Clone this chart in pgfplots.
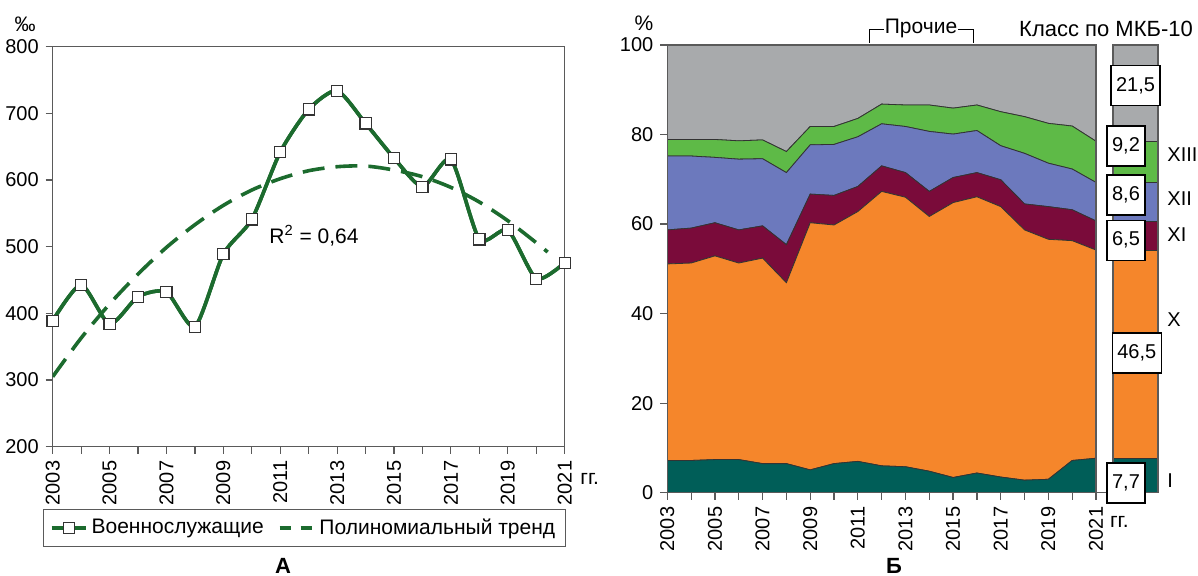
\documentclass[border=0pt]{standalone}
\usepackage{fontspec}
\setmainfont{Liberation Sans}
\usepackage{pgfplots}
\pgfplotsset{compat=1.18}
\usepackage{pgfplotstable}

\definecolor{lgreen}{HTML}{1C6B2E}
\definecolor{axgray}{HTML}{5A5A5A}
\definecolor{cI}{HTML}{005E58}
\definecolor{cX}{HTML}{F5862B}
\definecolor{cXI}{HTML}{7A0B3A}
\definecolor{cXII}{HTML}{6C79BD}
\definecolor{cXIII}{HTML}{5EBA47}
\definecolor{cOth}{HTML}{A8AAAC}

\pgfplotstableread{
year val
2003 389
2004 443
2005 384
2006 425
2007 432
2008 380
2009 489
2010 541
2011 642
2012 706
2013 734
2014 685
2015 633
2016 590
2017 631
2018 511
2019 525
2020 452
2021 476
}\tabMil

\pgfplotstableread{
year trend
2003 305
2004 363
2005 414
2006 459
2007 499
2008 533
2009 562
2010 585
2011 602
2012 614
2013 620
2014 621
2015 615
2016 605
2017 589
2018 567
2019 539
2020 506
2020.4 492
}\tabTrend

\pgfplotstableread{
year I X XI XII XIII Oth
2003 7.2 43.9 7.6 16.5 3.7 21.1
2004 7.2 44.1 7.8 16.1 3.7 21.1
2005 7.4 45.5 7.4 14.6 4.0 21.1
2006 7.4 43.9 7.4 15.8 4.1 21.4
2007 6.5 45.9 7.2 15.0 4.2 21.2
2008 6.5 40.4 8.5 16.1 4.7 23.8
2009 5.1 55.2 6.4 11.0 4.1 18.2
2010 6.5 53.3 6.6 11.4 4.0 18.2
2011 7.0 55.8 5.6 11.1 4.1 16.4
2012 6.0 61.3 5.7 9.4 4.4 13.2
2013 5.8 60.2 5.5 10.3 4.8 13.4
2014 4.8 56.9 5.6 13.4 5.9 13.4
2015 3.4 61.4 5.6 9.7 5.8 14.1
2016 4.4 61.7 5.4 9.4 5.7 13.4
2017 3.5 60.4 6.0 7.6 7.6 14.9
2018 2.8 55.9 5.8 11.3 8.2 16.0
2019 3.0 53.6 7.3 9.7 8.9 17.5
2020 7.2 49.1 6.9 9.1 9.6 18.1
2021 7.7 46.5 6.5 8.6 9.2 21.5
}\tabStruct

\pgfplotstableread{
x I X XI XII XIII Oth
0 7.7 46.5 6.5 8.6 9.2 21.5
1 7.7 46.5 6.5 8.6 9.2 21.5
}\tabBar

\pgfplotsset{
  common/.style={
    scale only axis,
    anchor=south west,
    axis line style={axgray, line width=0.6pt},
    every tick/.style={axgray, line width=0.6pt},
    tick align=outside,
    major tick length=3.5pt,
    xtick pos=bottom, ytick pos=left,
    /pgf/number format/assume math mode=true,
    /pgf/number format/1000 sep={},
    ticklabel style={font=\fontsize{10}{12}\selectfont, text=black},
    xticklabel style={rotate=90, anchor=east},
    xtick={2003,...,2021},
    xticklabels={2003,,2005,,2007,,2009,,2011,,2013,,2015,,2017,,2019,,2021},
    xmin=2003, xmax=2021,
  },
}
\tikzset{
  lay/.style={draw=black!80, line width=0.4pt, fill=#1},
  valbox/.style={draw=black, line width=0.7pt, fill=white, minimum height=20pt,
    inner xsep=2.5pt, font=\fontsize{10}{12}\selectfont},
  roman/.style={anchor=west, font=\fontsize{10}{12}\selectfont, inner sep=0pt},
}

\begin{document}
\begin{tikzpicture}
\useasboundingbox (0,0) rectangle (599pt,-287.5pt);

% ---------- A ----------
\begin{axis}[common,
  at={(26.35pt,-223.35pt)}, width=256pt, height=200pt,
  ymin=200, ymax=800, ytick={200,300,...,800},
  legend style={at={(0.4918,-0.1558)}, anchor=north, legend columns=2,
    draw=axgray, line width=0.6pt, font=\fontsize{10.5}{12}\selectfont,
    inner xsep=3pt, inner ysep=2.5pt,
    /tikz/every even column/.append style={column sep=5pt}},
]
\addplot[lgreen, line width=1.8pt, smooth, tension=0.4, mark=square*,
  mark options={fill=white, draw=black!80, line width=0.6pt, solid}, mark size=2.8pt]
  table[x=year, y=val]{\tabMil};
\addlegendentry{Военнослужащие}
\addplot[lgreen, line width=1.8pt, smooth, dash pattern=on 11pt off 5.5pt,
  legend image code/.code={\draw[lgreen, line width=1.8pt, dash pattern=on 5.5pt off 5pt] (0cm,0cm) -- (0.6cm,0cm);}]
  table[x=year, y=trend]{\tabTrend};
\addlegendentry{Полиномиальный тренд}
\addplot[lgreen, line width=1.8pt, smooth, tension=0.4, mark=square*,
  mark options={fill=white, draw=black!80, line width=0.6pt, solid}, mark size=2.8pt, forget plot]
  table[x=year, y=val]{\tabMil};
\end{axis}

\node[font=\fontsize{10.5}{12}\selectfont] at (12.5pt,-12.25pt) {‰};
\node[font=\fontsize{10.5}{12}\selectfont] at (157pt,-118pt) {R\textsuperscript{2} = 0,64};
\node[anchor=west, inner sep=0pt, font=\fontsize{10.5}{12}\selectfont] at (290pt,-239.5pt) {гг.};
\node[font=\fontsize{11}{12}\selectfont\bfseries] at (141.5pt,-282.75pt) {А};

% ---------- Б ----------
\begin{axis}[common,
  at={(333.65pt,-246.35pt)}, width=214.35pt, height=223.85pt,
  ymin=0, ymax=100, ytick={0,20,...,100},
  stack plots=y, area style, axis on top,
]
\addplot[lay=cI] table[x=year, y=I]{\tabStruct} \closedcycle;
\addplot[lay=cX] table[x=year, y=X]{\tabStruct} \closedcycle;
\addplot[lay=cXI] table[x=year, y=XI]{\tabStruct} \closedcycle;
\addplot[lay=cXII] table[x=year, y=XII]{\tabStruct} \closedcycle;
\addplot[lay=cXIII] table[x=year, y=XIII]{\tabStruct} \closedcycle;
\addplot[lay=cOth] table[x=year, y=Oth]{\tabStruct} \closedcycle;
\end{axis}

\begin{axis}[scale only axis, anchor=south west,
  at={(556.5pt,-246.35pt)}, width=22.5pt, height=223.85pt,
  xmin=0, xmax=1, ymin=0, ymax=100, xtick=\empty, ytick=\empty,
  axis line style={axgray, line width=0.6pt},
  stack plots=y, area style, axis on top,
]
\addplot[lay=cI] table[x=x, y=I]{\tabBar} \closedcycle;
\addplot[lay=cX] table[x=x, y=X]{\tabBar} \closedcycle;
\addplot[lay=cXI] table[x=x, y=XI]{\tabBar} \closedcycle;
\addplot[lay=cXII] table[x=x, y=XII]{\tabBar} \closedcycle;
\addplot[lay=cXIII] table[x=x, y=XIII]{\tabBar} \closedcycle;
\addplot[lay=cOth] table[x=x, y=Oth]{\tabBar} \closedcycle;
\end{axis}

\draw[axgray, line width=0.6pt] (547.9pt,-246.35pt) -- (556.5pt,-246.35pt);

\node[valbox] at (567.75pt,-42.76pt) {21,5};
\node[valbox] at (563.0pt,-73.09pt) {9,2};
\node[valbox] at (563.0pt,-97.49pt) {8,6};
\node[valbox] at (563.0pt,-120.1pt) {6,5};
\node[valbox] at (568.4pt,-176.51pt) {46,5};
\node[valbox] at (563.0pt,-241.43pt) {7,7};
\node[roman] at (583.5pt,-77.12pt) {XIII};
\node[roman] at (583.5pt,-99.5pt) {XII};
\node[roman] at (583.5pt,-117.19pt) {XI};
\node[roman] at (583.5pt,-159.94pt) {X};
\node[roman] at (583.5pt,-240.08pt) {I};

\node[font=\fontsize{10.5}{12}\selectfont] at (322pt,-11.75pt) {\%};
\node[font=\fontsize{10.5}{12}\selectfont, inner sep=0pt] at (460.5pt,-14pt) {Прочие};
\draw[black, line width=0.5pt] (434.5pt,-21.35pt) |- (442pt,-14.65pt);
\draw[black, line width=0.5pt] (479pt,-14.65pt) -| (486.8pt,-21.35pt);
\node[font=\fontsize{11}{12}\selectfont, inner sep=0pt] at (553pt,-14.5pt) {Класс по МКБ-10};
\node[anchor=west, inner sep=0pt, font=\fontsize{10.5}{12}\selectfont] at (554.8pt,-260.75pt) {гг.};
\node[font=\fontsize{11}{12}\selectfont\bfseries] at (447pt,-282.75pt) {Б};
\end{tikzpicture}
\end{document}
